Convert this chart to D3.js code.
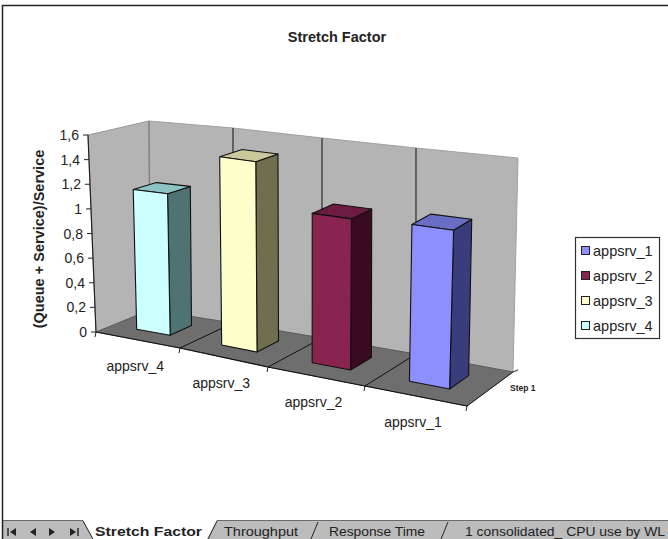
<!DOCTYPE html>
<html>
<head>
<meta charset="utf-8">
<script src="https://cdn.jsdelivr.net/npm/d3@7/dist/d3.min.js"></script>
<style>
html,body{margin:0;padding:0;background:#fff}
svg{display:block}
text{font-family:"Liberation Sans",Arial,sans-serif;fill:#222}
</style>
</head>
<body>
<svg id="chart" width="668" height="539"></svg>
<script>
// Values
const categories = ["appsrv_4", "appsrv_3", "appsrv_2", "appsrv_1"];
const values = [1.14, 1.49, 1.15, 1.17];
const legendNames = ["appsrv_1", "appsrv_2", "appsrv_3", "appsrv_4"];
const tickValues = [0, 0.2, 0.4, 0.6, 0.8, 1, 1.2, 1.4, 1.6];
const tickLabels = ["0", "0,2", "0,4", "0,6", "0,8", "1", "1,2", "1,4", "1,6"];
const sheetTabs = ["Stretch Factor", "Throughput", "Response Time", "1 consolidated_ CPU use by WL"];

// Bar face colours keyed by category
const faceColors = {
  appsrv_1: {front: "#8c90ff", side: "#3a3d7c", top: "#6a6dc4"},
  appsrv_2: {front: "#88244f", side: "#3a0a20", top: "#6c1c40"},
  appsrv_3: {front: "#ffffcc", side: "#6f6f50", top: "#c9c99c"},
  appsrv_4: {front: "#ccffff", side: "#4f7272", top: "#8cc4c6"}
};

// Perspective frame: each scale maps a category boundary (0..4) to a pixel
const boundaries = [0, 1, 2, 3, 4];
const frontX = d3.scaleLinear(boundaries, [96, 180, 268, 365, 467]);
const frontY = d3.scaleLinear(boundaries, [332, 348, 367, 386, 406]);
const backX = d3.scaleLinear(boundaries, [150, 233, 322, 416, 513]);
const backY = d3.scaleLinear(boundaries, [310, 323, 338, 354, 372]);
const frontTopX = d3.scaleLinear(boundaries, [88, 176, 267, 368, 475]);
const frontTopY = d3.scaleLinear(boundaries, [135, 145, 158, 171, 184]);
const backTopX = d3.scaleLinear(boundaries, [149, 233, 322, 416, 518]);
const backTopY = d3.scaleLinear(boundaries, [121, 128, 138, 148, 158]);
const valueScale = d3.scaleLinear([0, 1.6], [0, 1]);

// Category position, depth 0..1 and value to a screen point
function project(t, depth, v) {
  const bx = frontX(t) + (backX(t) - frontX(t)) * depth;
  const by = frontY(t) + (backY(t) - frontY(t)) * depth;
  const tx = frontTopX(t) + (backTopX(t) - frontTopX(t)) * depth;
  const ty = frontTopY(t) + (backTopY(t) - frontTopY(t)) * depth;
  const k = valueScale(v);
  return [bx + (tx - bx) * k, by + (ty - by) * k];
}

const svg = d3.select("#chart");
const polyLine = d3.line();
const closed = pts => polyLine(pts) + "Z";

// Left wall, back wall and floor
const wallFill = "#b4b4b4";
svg.append("path").attr("d", closed([project(0,0,0), project(0,0,1.6), project(0,1,1.6), project(0,1,0)]))
  .attr("fill", wallFill).attr("stroke", "#999");
svg.append("path").attr("d", closed([project(0,1,0), project(0,1,1.6), ...boundaries.slice(1).map(b => project(b,1,1.6)), project(4,1,0), ...[3,2,1].map(b => project(b,1,0))]))
  .attr("fill", wallFill).attr("stroke", "#a0a0a0");
svg.append("path").attr("d", closed([...boundaries.map(b => project(b,0,0)), ...boundaries.slice().reverse().map(b => project(b,1,0))]))
  .attr("fill", "#6e6e6e").attr("stroke", "#5c5c5c");

// Vertical gridlines on the back wall, depth gridlines on the floor
boundaries.slice(1, 4).forEach(b => {
  svg.append("path").attr("d", polyLine([project(b,1,0), project(b,1,1.6)])).attr("stroke", "#2a2a2a").attr("stroke-width", 1.2).attr("fill", "none");
  svg.append("path").attr("d", polyLine([project(b,0,0), project(b,1,0)])).attr("stroke", "#111").attr("fill", "none");
});
svg.append("path").attr("d", polyLine([project(0,1,0), project(0,1,1.6)])).attr("stroke", "#777").attr("fill", "none");

// Value axis along the front-left wall edge
svg.append("path").attr("d", polyLine([project(0,0,0), project(0,0,1.6)])).attr("stroke", "#222").attr("stroke-width", 1.2).attr("fill", "none");
tickValues.forEach((v, i) => {
  const [x, y] = project(0, 0, v);
  svg.append("line").attr("x1", x - 5).attr("x2", x).attr("y1", y).attr("y2", y).attr("stroke", "#222");
  svg.append("text").attr("x", x - 9).attr("y", y + 5).attr("text-anchor", "end").attr("font-size", 14).text(tickLabels[i]);
});

// Category axis along the front floor edge
svg.append("path").attr("d", polyLine(boundaries.map(b => project(b,0,0)))).attr("stroke", "#111").attr("stroke-width", 1.2).attr("fill", "none");
boundaries.forEach(b => {
  const [x, y] = project(b, 0, 0);
  svg.append("line").attr("x1", x).attr("x2", x - 1).attr("y1", y).attr("y2", y + 5).attr("stroke", "#222");
});

// Series-depth axis on the right floor edge
svg.append("path").attr("d", polyLine([project(4,0,0), project(4,1,0), [project(4,1,0)[0] + 5, project(4,1,0)[1] - 2]]))
  .attr("stroke", "#222").attr("fill", "none");

// Bars, drawn left to right
const half = 0.2, depthNear = 0.32, depthFar = 0.72;
categories.forEach((name, i) => {
  const c = i + 0.48, l = c - half, r = c + half, v = values[i], col = faceColors[name];
  const g = svg.append("g").attr("stroke", "#111").attr("stroke-width", 1.1).attr("stroke-linejoin", "round");
  g.append("path").attr("fill", col.side).attr("d", closed([project(r,depthNear,0), project(r,depthFar,0), project(r,depthFar,v), project(r,depthNear,v)]));
  g.append("path").attr("fill", col.top).attr("d", closed([project(l,depthNear,v), project(r,depthNear,v), project(r,depthFar,v), project(l,depthFar,v)]));
  g.append("path").attr("fill", col.front).attr("d", closed([project(l,depthNear,0), project(r,depthNear,0), project(r,depthNear,v), project(l,depthNear,v)]));
  const [lx, ly] = project(i + 0.48, 0, 0);
  svg.append("text").attr("x", lx - 1).attr("y", ly + 31).attr("text-anchor", "middle").attr("font-size", 14).text(name);
});

// Title, axis title, depth label
svg.append("text").attr("x", 337).attr("y", 42).attr("text-anchor", "middle").attr("font-size", 14.5).attr("font-weight", "bold").text("Stretch Factor");
svg.append("text").attr("transform", "translate(44,239) rotate(-90)").attr("text-anchor", "middle").attr("font-size", 14.5).attr("font-weight", "bold").text("(Queue + Service)/Service");
svg.append("text").attr("x", 510).attr("y", 391).attr("font-size", 8.5).attr("font-weight", "bold").attr("fill", "#444").text("Step 1");

// Legend
const legend = svg.append("g");
legend.append("rect").attr("x", 575.5).attr("y", 237.5).attr("width", 84).attr("height", 101).attr("fill", "#fff").attr("stroke", "#333").attr("stroke-width", 1.2);
const legendY = d3.scalePoint(legendNames, [251, 326]);
legendNames.forEach(name => {
  const y = legendY(name);
  legend.append("rect").attr("x", 581.5).attr("y", y - 4.5).attr("width", 8).attr("height", 8).attr("fill", faceColors[name].front).attr("stroke", "#222");
  legend.append("text").attr("x", 593).attr("y", y + 5).attr("font-size", 14.5).text(name);
});

// Sheet tab strip: grey band, white active tab, inactive tab separators
const tabStrip = svg.append("g");
tabStrip.append("rect").attr("x", 3).attr("y", 520).attr("width", 665).attr("height", 19).attr("fill", "#bcbcbc");
tabStrip.append("line").attr("x1", 3).attr("x2", 668).attr("y1", 520.5).attr("y2", 520.5).attr("stroke", "#6a6a6a");
tabStrip.append("path").attr("d", closed([[83, 520], [217, 520], [207, 539], [93, 539]])).attr("fill", "#fff");
tabStrip.append("path").attr("d", polyLine([[83, 521], [93, 539]])).attr("stroke", "#222").attr("fill", "none");
tabStrip.append("path").attr("d", polyLine([[217, 521], [208, 539]])).attr("stroke", "#222").attr("fill", "none");
[[318, 522, 311, 539], [448, 522, 441, 539]].forEach(e =>
  tabStrip.append("path").attr("d", polyLine([[e[0], e[1]], [e[2], e[3]]])).attr("stroke", "#222").attr("fill", "none"));

// Navigation arrows
const arrow = (x, dir, bar) => {
  tabStrip.append("path").attr("d", closed([[x - 3 * dir, 528], [x + 3 * dir, 532], [x - 3 * dir, 536]])).attr("fill", "#222");
  if (bar) tabStrip.append("path").attr("d", polyLine([[x + 5 * dir, 528], [x + 5 * dir, 536]])).attr("stroke", "#222").attr("stroke-width", 1.4).attr("fill", "none");
};
arrow(13, -1, true); arrow(33, -1, false); arrow(52, 1, false); arrow(73, 1, true);

const tabX = [95, 224, 329, 465];
const tabW = [107, 74, 96, 200];
sheetTabs.forEach((t, i) => {
  tabStrip.append("text").attr("x", tabX[i]).attr("y", 536).attr("font-size", 13)
    .attr("font-family", "'Open Sans', sans-serif")
    .attr("font-weight", i === 0 ? "bold" : "normal")
    .attr("textLength", tabW[i]).attr("lengthAdjust", "spacingAndGlyphs").text(t);
});

// Outer sheet frame, drawn last so it stays crisp over the band
svg.append("path").attr("d", "M2.5,539V5.5H668").attr("fill", "none").attr("stroke", "#222").attr("stroke-width", 1.5);
</script>
</body>
</html>
